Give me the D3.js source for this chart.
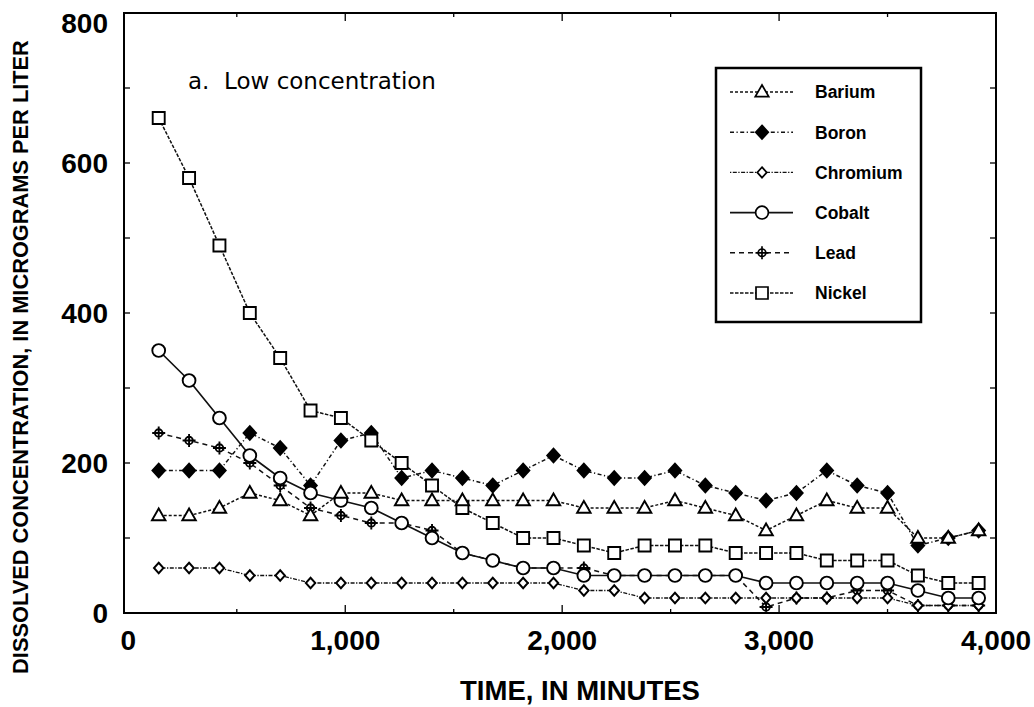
<!DOCTYPE html>
<html>
<head>
<meta charset="utf-8">
<script src="https://cdn.jsdelivr.net/npm/d3@7"></script>
<style>
  body { margin: 0; background: #fff; }
  svg { display: block; }
</style>
</head>
<body>
<svg id="chart" width="1034" height="707"></svg>
<script>
// sampling times, minutes
const times = [140, 280, 420, 560, 700, 840, 980, 1120, 1260, 1400, 1540, 1680, 1820, 1960,
  2100, 2240, 2380, 2520, 2660, 2800, 2940, 3080, 3220, 3360, 3500, 3640, 3780, 3920];

// dissolved concentration, micrograms per liter
const barium = [130, 130, 140, 160, 150, 130, 160, 160, 150, 150, 150, 150, 150, 150,
  140, 140, 140, 150, 140, 130, 110, 130, 150, 140, 140, 100, 100, 110];
const boron = [190, 190, 190, 240, 220, 170, 230, 240, 180, 190, 180, 170, 190, 210,
  190, 180, 180, 190, 170, 160, 150, 160, 190, 170, 160, 90, 100, 110];
const chromium = [60, 60, 60, 50, 50, 40, 40, 40, 40, 40, 40, 40, 40, 40,
  30, 30, 20, 20, 20, 20, 20, 20, 20, 20, 20, 10, 10, 10];
const cobalt = [350, 310, 260, 210, 180, 160, 150, 140, 120, 100, 80, 70, 60, 60,
  50, 50, 50, 50, 50, 50, 40, 40, 40, 40, 40, 30, 20, 20];
const lead = [240, 230, 220, 200, 170, 140, 130, 120, 120, 110, 80, 70, 60, 60,
  60, 50, 50, 50, 50, 50, 8, 20, 20, 30, 30, 10, 10, 10];
const nickel = [660, 580, 490, 400, 340, 270, 260, 230, 200, 170, 140, 120, 100, 100,
  90, 80, 90, 90, 90, 80, 80, 80, 70, 70, 70, 50, 40, 40];

const seriesNames = ['Barium', 'Boron', 'Chromium', 'Cobalt', 'Lead', 'Nickel'];
const xTickValues = [0, 1000, 2000, 3000, 4000];
const yTickValues = [0, 200, 400, 600, 800];

// marker shapes
function triangle(s) { const h = s * 0.87; return `M0,${-h * 0.6}L${s / 2},${h * 0.4}L${-s / 2},${h * 0.4}Z`; }
function diamond(w, h) { return `M0,${-h / 2}L${w / 2},0L0,${h / 2}L${-w / 2},0Z`; }
function square(s) { return `M${-s / 2},${-s / 2}h${s}v${s}h${-s}Z`; }
function circle(r) { return `M${r},0A${r},${r} 0 1,1 ${-r},0A${r},${r} 0 1,1 ${r},0Z`; }
function leadMark() { return circle(3.8) + 'M-6.5,0H6.5M0,-6.5V6.5'; }

const styles = {
  Barium:   { values: barium,   dash: '3,2',           width: 1.5, mark: triangle(13.5), fill: '#fff' },
  Boron:    { values: boron,    dash: '4,2.5,1.2,2.5', width: 1.5, mark: diamond(12.5, 13.5), fill: '#000' },
  Chromium: { values: chromium, dash: '1.3,1.5,4,1.5', width: 1.3, mark: diamond(9.5, 10.5), fill: '#fff' },
  Cobalt:   { values: cobalt,   dash: null,            width: 1.7, mark: circle(6.4), fill: '#fff' },
  Lead:     { values: lead,     dash: '5,4',           width: 1.5, mark: leadMark(), fill: '#fff' },
  Nickel:   { values: nickel,   dash: '3.5,1.5',       width: 1.5, mark: square(12), fill: '#fff' }
};

const svg = d3.select('#chart');
const plotLeft = 124, plotRight = 996, plotTop = 13, plotBottom = 613;

const x = d3.scaleLinear().domain([-20, 4000]).range([plotLeft, plotRight]);
const y = d3.scaleLinear().domain([0, 800]).range([plotBottom, plotTop]);

// lines
const line = d3.line().x((d, i) => x(times[i])).y(d => y(d));
const plot = svg.append('g');
seriesNames.forEach(name => {
  const s = styles[name];
  plot.append('path')
    .attr('d', line(s.values))
    .attr('fill', 'none')
    .attr('stroke', '#111')
    .attr('stroke-width', s.width)
    .attr('stroke-dasharray', s.dash);
});

// markers, drawn over the lines
['Lead', 'Chromium', 'Boron', 'Nickel', 'Cobalt', 'Barium'].forEach(name => {
  const s = styles[name];
  plot.append('g').selectAll('path')
    .data(s.values)
    .enter().append('path')
    .attr('transform', (d, i) => `translate(${x(times[i])},${y(d)})`)
    .attr('d', s.mark)
    .attr('fill', s.fill)
    .attr('stroke', '#000')
    .attr('stroke-width', 1.9);
});

// frame and inward ticks
const axisG = svg.append('g').attr('stroke', '#000');
axisG.append('rect')
  .attr('x', plotLeft).attr('y', plotTop)
  .attr('width', plotRight - plotLeft).attr('height', plotBottom - plotTop)
  .attr('fill', 'none').attr('stroke-width', 2);

const yMinor = d3.range(100, 800, 100);
axisG.selectAll('.yl').data(yMinor).enter().append('line')
  .attr('x1', plotLeft).attr('x2', plotLeft + 6)
  .attr('y1', d => y(d)).attr('y2', d => y(d)).attr('stroke-width', 1.3);
axisG.selectAll('.yr').data(yMinor).enter().append('line')
  .attr('x1', plotRight).attr('x2', plotRight - 6)
  .attr('y1', d => y(d)).attr('y2', d => y(d)).attr('stroke-width', 1.3);

const xMinor = d3.range(500, 4000, 500);
axisG.selectAll('.xb').data(xMinor).enter().append('line')
  .attr('x1', d => x(d)).attr('x2', d => x(d))
  .attr('y1', plotBottom).attr('y2', d => plotBottom - (d % 1000 === 0 ? 8 : 4)).attr('stroke-width', 1.3);
axisG.selectAll('.xt').data(xMinor).enter().append('line')
  .attr('x1', d => x(d)).attr('x2', d => x(d))
  .attr('y1', plotTop).attr('y2', d => plotTop + (d % 1000 === 0 ? 8 : 4)).attr('stroke-width', 1.3);

// tick labels
const labelFont = "'Liberation Sans', Arial, sans-serif";
svg.append('g').selectAll('text')
  .data(xTickValues).enter().append('text')
  .attr('x', d => x(d)).attr('y', 650)
  .attr('text-anchor', 'middle')
  .style('font-family', labelFont).style('font-weight', 'bold').style('font-size', '28px')
  .text(d => d3.format(',')(d));

svg.append('g').selectAll('text')
  .data(yTickValues).enter().append('text')
  .attr('x', 108).attr('y', d => Math.max(y(d), 23))
  .attr('dy', '0.36em')
  .attr('text-anchor', 'end')
  .style('font-family', labelFont).style('font-weight', 'bold').style('font-size', '28px')
  .text(d => d);

// axis titles
svg.append('text')
  .attr('x', 580).attr('y', 700)
  .attr('text-anchor', 'middle')
  .style('font-family', labelFont).style('font-weight', 'bold').style('font-size', '27.5px')
  .text('TIME, IN MINUTES');

svg.append('text')
  .attr('transform', 'translate(28,357) rotate(-90)')
  .attr('text-anchor', 'middle')
  .style('font-family', labelFont).style('font-weight', 'bold').style('font-size', '21.8px')
  .text('DISSOLVED CONCENTRATION, IN MICROGRAMS PER LITER');

// panel title
svg.append('text')
  .attr('x', 188).attr('y', 89)
  .style('font-family', "'DejaVu Sans', sans-serif").style('font-size', '23px')
  .style('white-space', 'pre')
  .text('a.  Low concentration');

// legend
const legend = svg.append('g');
legend.append('rect')
  .attr('x', 716).attr('y', 68).attr('width', 205).attr('height', 254)
  .attr('fill', '#fff').attr('stroke', '#000').attr('stroke-width', 2.5);

seriesNames.forEach((name, i) => {
  const s = styles[name];
  const ly = 92 + i * 40.2;
  legend.append('line')
    .attr('x1', 730).attr('x2', 793).attr('y1', ly).attr('y2', ly)
    .attr('stroke', '#111').attr('stroke-width', s.width)
    .attr('stroke-dasharray', s.dash);
  legend.append('path')
    .attr('transform', `translate(762,${ly})`)
    .attr('d', s.mark)
    .attr('fill', s.fill).attr('stroke', '#000').attr('stroke-width', 1.7);
  legend.append('text')
    .attr('x', 815).attr('y', ly).attr('dy', '0.36em')
    .style('font-family', labelFont).style('font-weight', 'bold').style('font-size', '17.5px')
    .text(name);
});
</script>
</body>
</html>
